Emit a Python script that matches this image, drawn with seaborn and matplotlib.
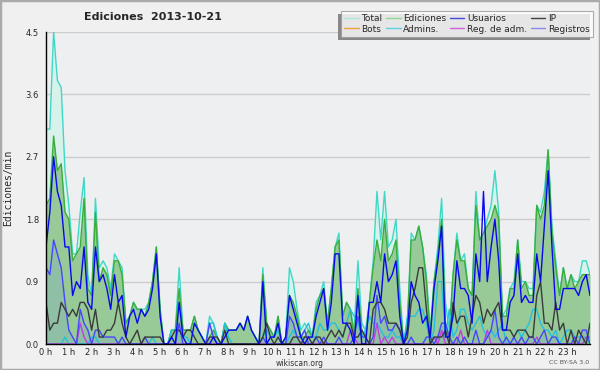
import numpy as np
import pandas as pd
import matplotlib
matplotlib.use("Agg")
import matplotlib.pyplot as plt
import seaborn as sns
from matplotlib.lines import Line2D
from matplotlib.patches import Rectangle
from matplotlib.ticker import FormatStrFormatter

# ---------------- data (edits per minute, 10-minute buckets) ----------------
hour_labels = [f"{h} h" for h in range(24)]

total = [3.1, 3.1, 4.5, 3.8, 3.7, 2.5, 2.0, 1.3, 1.3, 1.9, 2.4, 1.0,
         0.7, 2.1, 1.1, 1.2, 1.1, 0.8, 1.3, 1.2, 1.1, 0.3, 0.4, 0.6,
         0.5, 0.5, 0.5, 0.6, 0.9, 1.4, 0.5, 0.0, 0.0, 0.2, 0.2, 1.1,
         0.2, 0.2, 0.2, 0.4, 0.2, 0.1, 0.0, 0.4, 0.3, 0.1, 0.0, 0.3,
         0.2, 0.2, 0.2, 0.3, 0.2, 0.4, 0.2, 0.1, 0.0, 1.1, 0.3, 0.2,
         0.1, 0.4, 0.0, 0.1, 1.1, 0.9, 0.5, 0.2, 0.3, 0.2, 0.1, 0.6,
         0.7, 0.9, 0.3, 0.8, 1.4, 1.6, 0.4, 0.6, 0.5, 0.2, 1.2, 0.3,
         0.2, 0.6, 1.2, 2.2, 1.5, 2.2, 1.4, 1.5, 1.8, 0.8, 0.0, 0.3,
         1.6, 1.5, 1.7, 1.4, 1.0, 0.2, 0.9, 1.4, 2.1, 0.6, 0.2, 1.0,
         1.6, 1.2, 1.3, 0.8, 0.7, 2.2, 1.5, 1.6, 1.8, 2.0, 2.5, 1.9,
         0.4, 0.5, 0.8, 0.9, 1.5, 0.9, 0.9, 0.8, 0.8, 2.0, 1.9, 2.2,
         2.8, 1.7, 1.2, 0.7, 1.1, 0.8, 1.0, 0.9, 0.9, 1.2, 1.2, 1.0]

ediciones = [2.0, 2.1, 3.0, 2.5, 2.6, 1.9, 1.8, 1.2, 1.3, 1.4, 2.1, 0.8,
             0.7, 1.9, 0.9, 1.1, 1.0, 0.7, 1.2, 1.2, 1.0, 0.3, 0.4, 0.6,
             0.5, 0.5, 0.4, 0.6, 0.9, 1.4, 0.5, 0.0, 0.0, 0.2, 0.2, 0.8,
             0.2, 0.2, 0.2, 0.4, 0.2, 0.1, 0.0, 0.1, 0.2, 0.1, 0.0, 0.3,
             0.2, 0.2, 0.2, 0.3, 0.2, 0.4, 0.2, 0.1, 0.0, 1.0, 0.3, 0.2,
             0.1, 0.4, 0.0, 0.1, 0.7, 0.6, 0.4, 0.1, 0.1, 0.2, 0.1, 0.5,
             0.7, 0.8, 0.3, 0.8, 1.4, 1.5, 0.4, 0.6, 0.5, 0.1, 0.8, 0.2,
             0.1, 0.6, 1.1, 1.5, 1.2, 1.8, 1.2, 1.3, 1.5, 0.6, 0.0, 0.3,
             1.5, 1.5, 1.7, 1.4, 0.9, 0.1, 0.9, 1.3, 1.8, 0.3, 0.1, 1.0,
             1.5, 1.2, 1.2, 0.8, 0.7, 2.0, 1.5, 1.6, 1.7, 1.8, 2.0, 1.8,
             0.4, 0.4, 0.8, 0.8, 1.5, 0.8, 0.9, 0.7, 0.7, 2.0, 1.8, 2.0,
             2.8, 1.6, 1.1, 0.7, 1.1, 0.8, 1.0, 0.8, 0.9, 1.0, 1.0, 1.0]

usuarios = [1.4, 1.9, 2.7, 2.2, 2.0, 1.4, 1.4, 0.7, 0.9, 0.8, 1.4, 0.6,
            0.5, 1.4, 0.9, 1.0, 0.8, 0.5, 1.0, 0.6, 0.7, 0.1, 0.4, 0.5,
            0.3, 0.5, 0.4, 0.5, 0.8, 1.3, 0.4, 0.0, 0.0, 0.1, 0.0, 0.6,
            0.1, 0.0, 0.0, 0.3, 0.2, 0.1, 0.0, 0.0, 0.1, 0.0, 0.0, 0.1,
            0.2, 0.2, 0.2, 0.3, 0.2, 0.4, 0.2, 0.1, 0.0, 0.9, 0.0, 0.1,
            0.1, 0.3, 0.0, 0.1, 0.7, 0.5, 0.3, 0.1, 0.0, 0.1, 0.1, 0.4,
            0.6, 0.8, 0.2, 0.6, 1.3, 1.3, 0.3, 0.3, 0.2, 0.0, 0.7, 0.0,
            0.0, 0.6, 0.6, 0.9, 0.6, 1.3, 0.9, 1.0, 1.2, 0.4, 0.0, 0.2,
            0.9, 0.7, 0.6, 0.3, 0.4, 0.1, 0.8, 1.2, 1.7, 0.1, 0.1, 0.4,
            1.2, 0.8, 0.8, 0.7, 0.3, 1.3, 0.9, 2.2, 0.9, 1.4, 1.8, 1.2,
            0.2, 0.2, 0.6, 0.7, 1.3, 0.6, 0.7, 0.6, 0.6, 1.3, 0.9, 1.7,
            2.5, 1.4, 0.5, 0.5, 0.8, 0.8, 0.8, 0.8, 0.7, 0.9, 1.0, 0.7]

ip = [0.6, 0.2, 0.3, 0.3, 0.6, 0.5, 0.4, 0.5, 0.4, 0.6, 0.6, 0.5,
      0.2, 0.5, 0.1, 0.1, 0.2, 0.2, 0.3, 0.6, 0.3, 0.1, 0.0, 0.1,
      0.2, 0.0, 0.1, 0.1, 0.1, 0.1, 0.1, 0.0, 0.0, 0.1, 0.2, 0.2,
      0.1, 0.2, 0.2, 0.1, 0.0, 0.0, 0.0, 0.1, 0.1, 0.1, 0.0, 0.2,
      0.0, 0.0, 0.0, 0.0, 0.0, 0.0, 0.0, 0.0, 0.0, 0.1, 0.3, 0.1,
      0.0, 0.1, 0.0, 0.0, 0.0, 0.1, 0.1, 0.0, 0.1, 0.1, 0.0, 0.1,
      0.1, 0.0, 0.1, 0.2, 0.1, 0.2, 0.1, 0.3, 0.3, 0.1, 0.1, 0.2,
      0.1, 0.0, 0.5, 0.6, 0.6, 0.5, 0.3, 0.3, 0.3, 0.2, 0.0, 0.1,
      0.6, 0.8, 1.1, 1.1, 0.5, 0.0, 0.1, 0.1, 0.1, 0.2, 0.0, 0.6,
      0.3, 0.4, 0.4, 0.1, 0.4, 0.7, 0.6, 0.3, 0.5, 0.4, 0.5, 0.6,
      0.2, 0.2, 0.2, 0.1, 0.2, 0.2, 0.2, 0.1, 0.1, 0.7, 0.9, 0.3,
      0.3, 0.2, 0.6, 0.2, 0.3, 0.0, 0.2, 0.0, 0.2, 0.1, 0.0, 0.3]

registros = [1.1, 1.0, 1.5, 1.3, 1.1, 0.6, 0.2, 0.1, 0.0, 0.5, 0.3, 0.2,
             0.0, 0.2, 0.2, 0.1, 0.1, 0.1, 0.1, 0.0, 0.1, 0.0, 0.0, 0.0,
             0.0, 0.0, 0.1, 0.0, 0.0, 0.0, 0.0, 0.0, 0.0, 0.0, 0.0, 0.3,
             0.0, 0.0, 0.0, 0.0, 0.0, 0.0, 0.0, 0.3, 0.1, 0.0, 0.0, 0.0,
             0.0, 0.0, 0.0, 0.0, 0.0, 0.0, 0.0, 0.0, 0.0, 0.1, 0.0, 0.0,
             0.0, 0.0, 0.0, 0.0, 0.4, 0.3, 0.1, 0.1, 0.2, 0.0, 0.0, 0.1,
             0.0, 0.1, 0.0, 0.0, 0.0, 0.1, 0.0, 0.0, 0.0, 0.1, 0.4, 0.1,
             0.1, 0.0, 0.1, 0.7, 0.3, 0.4, 0.2, 0.2, 0.3, 0.2, 0.0, 0.0,
             0.1, 0.0, 0.0, 0.0, 0.1, 0.1, 0.0, 0.1, 0.3, 0.3, 0.1, 0.0,
             0.1, 0.0, 0.1, 0.0, 0.0, 0.2, 0.0, 0.0, 0.1, 0.2, 0.5, 0.1,
             0.0, 0.1, 0.0, 0.1, 0.0, 0.1, 0.0, 0.1, 0.1, 0.0, 0.1, 0.2,
             0.0, 0.1, 0.1, 0.0, 0.0, 0.0, 0.0, 0.1, 0.0, 0.2, 0.2, 0.0]

admins = [0.0, 0.0, 0.0, 0.0, 0.0, 0.1, 0.0, 0.0, 0.0, 0.0, 0.0, 0.0,
          0.1, 0.1, 0.0, 0.0, 0.0, 0.0, 0.0, 0.0, 0.0, 0.0, 0.0, 0.0,
          0.0, 0.0, 0.0, 0.0, 0.1, 0.0, 0.0, 0.0, 0.0, 0.2, 0.2, 0.2,
          0.1, 0.1, 0.0, 0.0, 0.0, 0.0, 0.0, 0.3, 0.3, 0.1, 0.0, 0.3,
          0.1, 0.0, 0.0, 0.0, 0.0, 0.0, 0.0, 0.0, 0.0, 0.1, 0.2, 0.1,
          0.1, 0.2, 0.0, 0.0, 0.1, 0.2, 0.1, 0.1, 0.2, 0.3, 0.1, 0.1,
          0.3, 0.2, 0.2, 0.3, 0.3, 0.2, 0.1, 0.3, 0.5, 0.4, 0.3, 0.1,
          0.2, 0.4, 0.3, 0.3, 0.2, 0.1, 0.1, 0.2, 0.1, 0.1, 0.0, 0.4,
          0.4, 0.4, 0.5, 0.5, 0.3, 0.0, 0.2, 0.9, 0.9, 0.1, 0.5, 0.1,
          0.2, 0.5, 0.5, 0.3, 0.2, 0.3, 0.4, 0.2, 0.1, 0.2, 0.1, 0.2,
          0.3, 0.0, 0.0, 0.1, 0.2, 0.1, 0.2, 0.3, 0.5, 0.5, 0.3, 0.2,
          0.2, 0.1, 0.2, 0.0, 0.1, 0.2, 0.2, 0.1, 0.1, 0.1, 0.1, 0.0]

reg_adm = [0.0, 0.0, 0.0, 0.0, 0.0, 0.0, 0.0, 0.0, 0.0, 0.3, 0.1, 0.0,
           0.0, 0.0, 0.0, 0.0, 0.0, 0.0, 0.0, 0.0, 0.0, 0.0, 0.0, 0.0,
           0.0, 0.0, 0.0, 0.0, 0.0, 0.0, 0.0, 0.0, 0.0, 0.0, 0.0, 0.0,
           0.0, 0.0, 0.0, 0.0, 0.0, 0.0, 0.0, 0.0, 0.0, 0.0, 0.0, 0.0,
           0.0, 0.0, 0.0, 0.0, 0.0, 0.0, 0.0, 0.0, 0.0, 0.0, 0.0, 0.0,
           0.0, 0.0, 0.0, 0.0, 0.0, 0.0, 0.0, 0.0, 0.0, 0.0, 0.0, 0.0,
           0.0, 0.0, 0.0, 0.0, 0.0, 0.0, 0.0, 0.0, 0.2, 0.1, 0.0, 0.0,
           0.0, 0.0, 0.0, 0.3, 0.0, 0.1, 0.0, 0.1, 0.0, 0.0, 0.0, 0.0,
           0.0, 0.0, 0.0, 0.0, 0.0, 0.0, 0.1, 0.0, 0.2, 0.0, 0.0, 0.0,
           0.0, 0.2, 0.0, 0.0, 0.0, 0.0, 0.0, 0.0, 0.2, 0.0, 0.0, 0.0,
           0.0, 0.0, 0.0, 0.0, 0.0, 0.0, 0.0, 0.0, 0.0, 0.1, 0.0, 0.0,
           0.0, 0.0, 0.0, 0.0, 0.0, 0.0, 0.0, 0.0, 0.0, 0.0, 0.1, 0.1]

bots = [0.0] * 144

# ---------------- figure ----------------
sns.set_theme(style="white")
plt.rcParams['font.family'] = ['DejaVu Sans']

n = len(total)
df = pd.DataFrame({
    "hora": np.linspace(0, 24, n),
    "Total": total, "Ediciones": ediciones, "Usuarios": usuarios, "IP": ip,
    "Registros": registros, "Admins.": admins, "Reg. de adm.": reg_adm,
    "Bots": bots,
})

fig = plt.figure(figsize=(6, 3.7), dpi=100, facecolor="#f0f0f0")
ax = fig.add_axes([46 / 600, 26 / 370, 544 / 600, 312 / 370])
ax.set_facecolor("#eeeff1")

# filled areas
ax.fill_between(df["hora"], df["Total"], color="#d6f2eb", lw=0, zorder=1)
ax.fill_between(df["hora"], df["Ediciones"], color="#97ca97", lw=0, zorder=2)
ax.fill_between(df["hora"], df["Registros"], color="#5a7cff", alpha=0.13, lw=0, zorder=3)

line_styles = [
    ("Total", "#3fd8c6"),
    ("Ediciones", "#3aad3a"),
    ("Admins.", "#22c2de"),
    ("Reg. de adm.", "#c23ee0"),
    ("Registros", "#4646ff"),
    ("IP", "#3a3a3a"),
    ("Usuarios", "#0808ee"),
]
for z, (col, c) in enumerate(line_styles):
    sns.lineplot(data=df, x="hora", y=col, ax=ax, color=c, linewidth=1.0,
                 legend=False, zorder=4 + z)

ax.set_xlim(0, 24)
ax.set_ylim(0, 4.5)
ax.set_xticks(range(24))
ax.set_xticklabels(hour_labels)
ax.set_xticks(np.arange(0, 24.001, 1 / 6), minor=True)
ax.set_yticks(np.arange(0, 4.501, 0.9))
ax.set_yticks(np.arange(0.45, 4.5, 0.9), minor=True)
ax.yaxis.set_major_formatter(FormatStrFormatter("%.1f"))
ax.tick_params(axis="both", which="both", direction="out", color="black",
               labelsize=6, width=0.8)
ax.tick_params(axis="y", which="major", length=4, pad=1)
ax.tick_params(axis="y", which="minor", length=3)
ax.tick_params(axis="x", which="major", length=3, pad=0)
ax.tick_params(axis="x", which="minor", length=2.5)
ax.grid(axis="y", which="major", color="#cccccc", lw=1, zorder=0)
ax.set_axisbelow(True)
for s in ["top", "right"]:
    ax.spines[s].set_visible(False)
for s in ["left", "bottom"]:
    ax.spines[s].set_color("black")
    ax.spines[s].set_linewidth(1)
    ax.spines[s].set_zorder(20)
ax.set_xlabel("")
ax.set_ylabel("Ediciones/min", family="DejaVu Sans Mono", fontsize=7)
ax.yaxis.set_label_coords(-0.06, 0.5)

fig.text(153 / 600, 1 - 17 / 370, "Ediciones  2013-10-21", ha="center",
         va="center", fontsize=8, fontweight="bold")
fig.text(300 / 600, 1 - 363 / 370, "wikiscan.org", ha="center", va="center",
         fontsize=5.5, color="#333333")
fig.text(589 / 600, 1 - 363 / 370, "CC BY-SA 3.0", ha="right", va="center",
         fontsize=4.5, color="#555555")

# legend
legend_colors = {
    "Total": "#a8e8e0", "Ediciones": "#90d890", "Usuarios": "#4848e0",
    "IP": "#404040", "Bots": "#f0a040", "Admins.": "#60d0e0",
    "Reg. de adm.": "#d060e0", "Registros": "#8888f0",
}
order = ["Total", "Bots", "Ediciones", "Admins.", "Usuarios", "Reg. de adm.",
         "IP", "Registros"]
handles = [Line2D([0], [0], color=legend_colors[k], lw=1) for k in order]
leg = fig.legend(handles, order, ncol=4, loc="upper right",
                 bbox_to_anchor=(593 / 600, 1 - 11 / 370), fontsize=6.5,
                 frameon=True, fancybox=False, handlelength=1.6,
                 handletextpad=0.3, columnspacing=0.4, borderpad=0.35,
                 labelspacing=0.15, borderaxespad=0)
leg.get_frame().set_edgecolor("#999999")
leg.get_frame().set_facecolor("white")
leg.get_frame().set_linewidth(0.8)
leg.set_zorder(30)

fig.canvas.draw()
bb = leg.get_window_extent().transformed(fig.transFigure.inverted())
fig.patches.append(Rectangle((bb.x0 - 3 / 600, bb.y0 - 3 / 370), bb.width, bb.height,
                             transform=fig.transFigure, facecolor="#888888",
                             edgecolor="none", zorder=25))
fig.patches.append(Rectangle((0, 0), 1, 1, transform=fig.transFigure, fill=False,
                             edgecolor="#aaaaaa", lw=2.5, zorder=40))

fig.savefig("out.png", dpi=100, facecolor=fig.get_facecolor())
